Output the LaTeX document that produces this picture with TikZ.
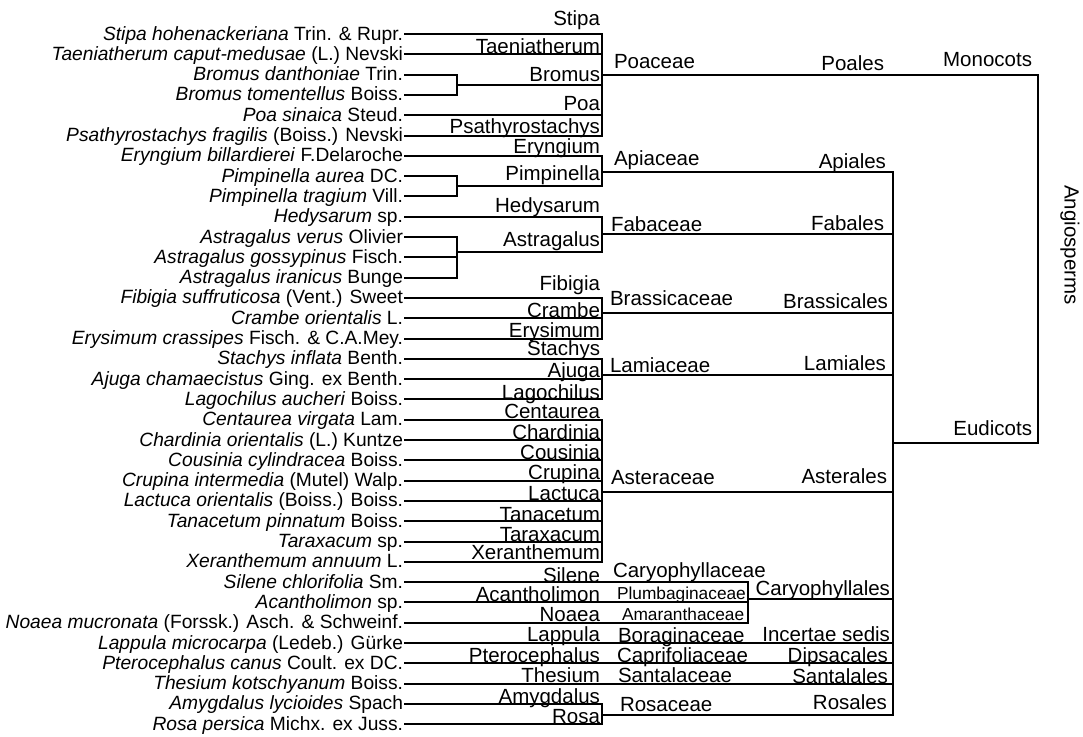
\documentclass[tikz,border=0pt]{standalone}
\usepackage{fontspec}
\setmainfont{Liberation Sans}

\begin{document}
\begin{tikzpicture}[x=1pt, y=-1pt, line width=2pt, line cap=rect,
    species/.style={anchor=base east, inner sep=0pt, font=\fontsize{19.2}{20}\selectfont},
    taxon/.style={inner sep=0pt, font=\fontsize{20.5}{22}\selectfont},
    genus/.style={taxon, anchor=base east},
    family/.style={taxon, anchor=base west},
    order/.style={taxon, anchor=base east},
    smallfam/.style={family, font=\fontsize{17.3}{18}\selectfont}]
    \useasboundingbox (0,0) rectangle (1083,736);

    % columns of the tree
    \coordinate (cS) at (457,0);
    \coordinate (cG) at (602,0);
    \coordinate (cC) at (748,0);
    \coordinate (cO) at (893,0);
    \coordinate (cR) at (1038,0);

    % species, one row each
    \foreach \i/\txt [evaluate=\i as \yy using 34+(\i-1)*20.3] in {
        1/{\textit{Stipa hohenackeriana} Trin. \& Rupr.},
        2/{\textit{Taeniatherum caput-medusae} (L.) Nevski},
        3/{\textit{Bromus danthoniae} Trin.},
        4/{\textit{Bromus tomentellus} Boiss.},
        5/{\textit{Poa sinaica} Steud.},
        6/{\textit{Psathyrostachys fragilis} (Boiss.) Nevski},
        7/{\textit{Eryngium billardierei} F.Delaroche},
        8/{\textit{Pimpinella aurea} DC.},
        9/{\textit{Pimpinella tragium} Vill.},
        10/{\textit{Hedysarum} sp.},
        11/{\textit{Astragalus verus} Olivier},
        12/{\textit{Astragalus gossypinus} Fisch.},
        13/{\textit{Astragalus iranicus} Bunge},
        14/{\textit{Fibigia suffruticosa} (Vent.) Sweet},
        15/{\textit{Crambe orientalis} L.},
        16/{\textit{Erysimum crassipes} Fisch. \& C.A.Mey.},
        17/{\textit{Stachys inflata} Benth.},
        18/{\textit{Ajuga chamaecistus} Ging. ex Benth.},
        19/{\textit{Lagochilus aucheri} Boiss.},
        20/{\textit{Centaurea virgata} Lam.},
        21/{\textit{Chardinia orientalis} (L.) Kuntze},
        22/{\textit{Cousinia cylindracea} Boiss.},
        23/{\textit{Crupina intermedia} (Mutel) Walp.},
        24/{\textit{Lactuca orientalis} (Boiss.) Boiss.},
        25/{\textit{Tanacetum pinnatum} Boiss.},
        26/{\textit{Taraxacum} sp.},
        27/{\textit{Xeranthemum annuum} L.},
        28/{\textit{Silene chlorifolia} Sm.},
        29/{\textit{Acantholimon} sp.},
        30/{\textit{Noaea mucronata} (Forssk.) Asch. \& Schweinf.},
        31/{\textit{Lappula microcarpa} (Ledeb.) Gürke},
        32/{\textit{Pterocephalus canus} Coult. ex DC.},
        33/{\textit{Thesium kotschyanum} Boiss.},
        34/{\textit{Amygdalus lycioides} Spach},
        35/{\textit{Rosa persica} Michx. ex Juss.}} {
        \node[species] (sp\i) at (404,\yy+6) {\txt};
        \coordinate (l\i) at (405,\yy);
    }

    % inner nodes
    \coordinate (bromus) at (457,85);
    \coordinate (pimpinella) at (457,186);
    \coordinate (astragalus) at (457,252);
    \coordinate (poaceae) at (602,75);
    \coordinate (apiaceae) at (602,172);
    \coordinate (fabaceae) at (602,234);
    \coordinate (brassicaceae) at (602,313);
    \coordinate (lamiaceae) at (602,375);
    \coordinate (asteraceae) at (602,492);
    \coordinate (caryophyllales) at (748,599);
    \coordinate (rosaceae) at (602,715);
    \coordinate (eudicots) at (893,443);

    % leaf branches
    \foreach \i in {1,2,5,6,7,10,14,15,...,27,34,35}
        \draw (l\i) -- (l\i -| cG);
    \foreach \i in {3,4,8,9,11,12,13}
        \draw (l\i) -- (l\i -| cS);
    \foreach \i in {28,29,30}
        \draw (l\i) -- (l\i -| cC);
    \foreach \i in {31,32,33}
        \draw (l\i) -- (l\i -| cO);

    % genera with several species
    \draw (l3 -| cS) -- (l4 -| cS) (bromus) -- (bromus -| cG);
    \draw (l8 -| cS) -- (l9 -| cS) (pimpinella) -- (pimpinella -| cG);
    \draw (l11 -| cS) -- (l13 -| cS) (astragalus) -- (astragalus -| cG);

    % families
    \draw (l1 -| cG) -- (l6 -| cG) (poaceae) -- (poaceae -| cR);
    \draw (l7 -| cG) -- (pimpinella -| cG) (apiaceae) -- (apiaceae -| cO);
    \draw (l10 -| cG) -- (astragalus -| cG) (fabaceae) -- (fabaceae -| cO);
    \draw (l14 -| cG) -- (l16 -| cG) (brassicaceae) -- (brassicaceae -| cO);
    \draw (l17 -| cG) -- (l19 -| cG) (lamiaceae) -- (lamiaceae -| cO);
    \draw (l20 -| cG) -- (l27 -| cG) (asteraceae) -- (asteraceae -| cO);
    \draw (l34 -| cG) -- (l35 -| cG) (rosaceae) -- (rosaceae -| cO);
    \draw (l28 -| cC) -- (l30 -| cC) (caryophyllales) -- (caryophyllales -| cO);

    % orders and clades
    \draw (apiaceae -| cO) -- (rosaceae -| cO) (eudicots) -- (eudicots -| cR);
    \draw (poaceae -| cR) -- (eudicots -| cR);

    % genus labels
    \foreach \g/\yb in {Stipa/25, Taeniatherum/53, Bromus/81, Poa/110,
        Psathyrostachys/133, Eryngium/153, Pimpinella/180, Hedysarum/212,
        Astragalus/246, Fibigia/290, Crambe/317, Erysimum/337, Stachys/355,
        Ajuga/377, Lagochilus/399, Centaurea/418, Chardinia/439, Cousinia/459,
        Crupina/479, Lactuca/500, Tanacetum/521, Taraxacum/541,
        Xeranthemum/559, Silene/582, Acantholimon/601, Noaea/621,
        Lappula/641, Pterocephalus/662, Thesium/682, Amygdalus/703, Rosa/723}
        \node[genus] (g\g) at (601,\yb) {\g};

    % family labels
    \foreach \f/\xb/\yb in {Poaceae/613/68, Apiaceae/613/165, Fabaceae/610/231,
        Brassicaceae/609/305, Lamiaceae/609/372, Asteraceae/610/484,
        Caryophyllaceae/612/577, Boraginaceae/617/642,
        Caprifoliaceae/616/662, Santalaceae/617/682, Rosaceae/619/711}
        \node[family] (f\f) at (\xb,\yb) {\f};
    \node[smallfam] (fPlumbaginaceae) at (616,599) {Plumbaginaceae};
    \node[smallfam] (fAmaranthaceae) at (621,620) {Amaranthaceae};

    % order labels
    \foreach \o/\xb/\yb in {Poales/885/70, Apiales/887/168, Fabales/885/230,
        Brassicales/889/308, Lamiales/887/370, Asterales/888/483,
        Caryophyllales/891/595, Dipsacales/889/662, Santalales/889/683,
        Rosales/888/709, Monocots/1033/66, Eudicots/1033/435}
        \node[order] (o\o) at (\xb,\yb) {\o};
    \node[order] (oIncertae) at (891,641) {Incertae sedis};
    \node[taxon, rotate=-90] (angiosperms) at (1070,245) {Angiosperms};
\end{tikzpicture}
\end{document}
